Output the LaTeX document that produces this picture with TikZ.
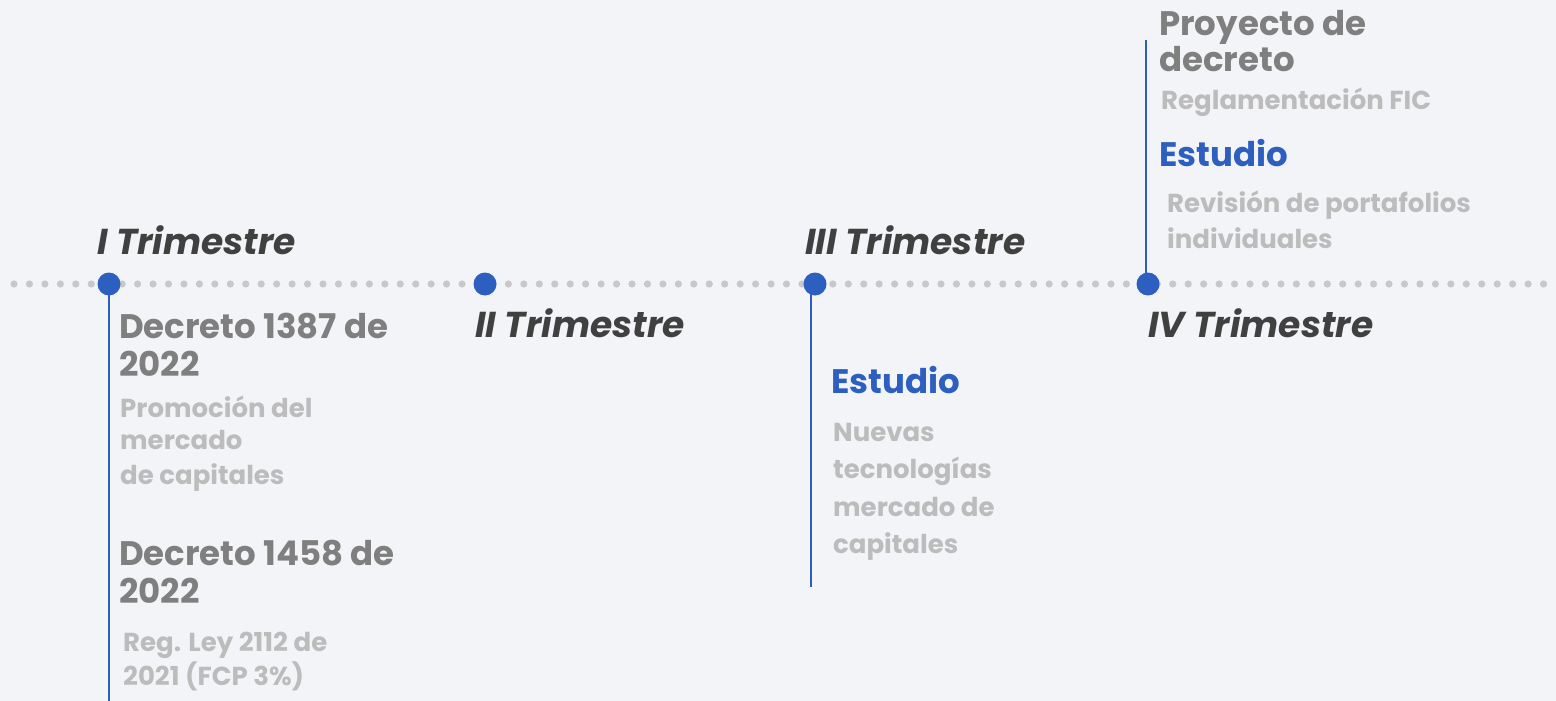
\documentclass[tikz,border=0pt]{standalone}
\usepackage{fontspec}
\setmainfont{Poppins}
\definecolor{bg}{HTML}{F3F4F8}
\definecolor{tblue}{HTML}{2C5FC0}
\definecolor{dotgray}{HTML}{C8C8C8}
\definecolor{headgray}{HTML}{7F7F7F}
\definecolor{bodygray}{HTML}{BCBCBC}
\definecolor{trimgray}{HTML}{404040}
\tikzset{
  bigdot/.style={circle,fill=tblue,inner sep=0pt,minimum size=23pt},
  vline/.style={draw=tblue,line width=1.2pt},
  trim/.style={anchor=base west,inner sep=0pt,text=trimgray,font=\fontsize{36}{40}\selectfont\bfseries\itshape},
  head/.style={anchor=base west,inner sep=0pt,text=headgray,font=\fontsize{34}{38}\selectfont\bfseries},
  headblue/.style={anchor=base west,inner sep=0pt,text=tblue,font=\fontsize{34}{38}\selectfont\bfseries},
  body/.style={anchor=base west,inner sep=0pt,text=bodygray,font=\fontsize{26}{30}\selectfont\bfseries},
}
\begin{document}
\begin{tikzpicture}[x=1pt,y=-1pt]
\useasboundingbox[fill=bg] (0,0) rectangle (1556,701);
% dotted timeline
\foreach \i in {0,...,99} {
  \fill[dotgray] (14+15.45*\i,284) circle (3.6pt);
}
% quarter markers
\node[bigdot] (q1) at (109,284) {};
\node[bigdot] (q2) at (485,284) {};
\node[bigdot] (q3) at (815,284) {};
\node[bigdot] (q4) at (1148,284) {};
\coordinate (s1) at (109,284);
\coordinate (e1) at (109,701);
\coordinate (s3) at (811,284);
\coordinate (e3) at (811,587);
\coordinate (s4) at (1146,284);
\coordinate (e4) at (1146,40);
\draw[vline] (s1) -- (e1);
\draw[vline] (s3) -- (e3);
\draw[vline] (s4) -- (e4);
% quarter labels
\node[trim] (t1) at (97,254) {I Trimestre};
\node[trim] (t2) at (475,337) {II Trimestre};
\node[trim] (t3) at (805,254) {III Trimestre};
\node[trim] (t4) at (1148,337) {IV Trimestre};
% I trimestre items
\node[head] (d1a) at (119,338) {Decreto 1387 de};
\node[head] (d1b) at (119,376) {2022};
\node[body] (b1a) at (120,417) {Promoción del};
\node[body] (b1b) at (120,449) {mercado};
\node[body] (b1c) at (120,484) {de capitales};
\node[head] (d2a) at (119,565) {Decreto 1458 de};
\node[head] (d2b) at (119,603) {2022};
\node[body] (b2a) at (123,651) {Reg. Ley 2112 de};
\node[body] (b2b) at (123,685) {2021 (FCP 3\%)};
% III trimestre
\node[headblue] (s3h) at (831,393) {Estudio};
\node[body] (b3a) at (833,441) {Nuevas};
\node[body] (b3b) at (833,478) {tecnologías};
\node[body] (b3c) at (833,516) {mercado de};
\node[body] (b3d) at (833,553) {capitales};
% IV trimestre
\node[head] (p4a) at (1159,36) {Proyecto de};
\node[head] (p4b) at (1159,72) {decreto};
\node[body] (r4) at (1161,110) {Reglamentación FIC};
\node[headblue] (s4h) at (1159,166) {Estudio};
\node[body] (b4a) at (1167,212) {Revisión de portafolios};
\node[body] (b4b) at (1167,248) {individuales};
\end{tikzpicture}
\end{document}
